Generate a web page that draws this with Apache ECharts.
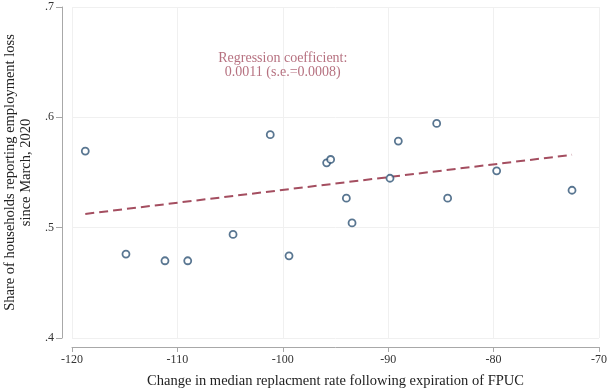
<!DOCTYPE html>
<html><head><meta charset="utf-8">
<script src="https://cdn.jsdelivr.net/npm/echarts@6/dist/echarts.min.js"></script>
<style>html,body{margin:0;padding:0;background:#fff}#c{width:610px;height:390px}</style>
</head><body><div id="c"></div>
<script>
var xValues = [-118.74, -114.88, -111.18, -109.02, -104.72, -101.19, -99.41, -95.84, -95.46, -93.97, -93.43, -89.83, -89.04, -85.40, -84.36, -79.71, -72.56];
var yValues = [0.5694, 0.4761, 0.4700, 0.4700, 0.4939, 0.5843, 0.4745, 0.5588, 0.5618, 0.5267, 0.5043, 0.5448, 0.5785, 0.5945, 0.5267, 0.5515, 0.5339];
var fitCoef = [0.6502, 0.00116]; // intercept, slope
var xTicks = [-120, -110, -100, -90, -80, -70];
var yTickLabels = ['.4', '.5', '.6', '.7'];
var annotationText = 'Regression coefficient:\n0.0011 (s.e.=0.0008)';
var annotationPos = [-100, 0.6473];

var pts = xValues.map(function(x, i){ return [x, yValues[i]]; });
var xmin = Math.min.apply(null, xValues), xmax = Math.max.apply(null, xValues);
var fit = [[xmin, fitCoef[0] + fitCoef[1]*xmin], [xmax, fitCoef[0] + fitCoef[1]*xmax]];

var serif = '"Liberation Serif", "DejaVu Serif", serif';
var axisGray = '#a8a8a8';
var chart = echarts.init(document.getElementById('c'), null, {renderer: 'canvas'});
chart.setOption({
  animation: false,
  grid: {left: 72, top: 7, width: 527, height: 331, containLabel: false, outerBoundsMode: 'none'},
  xAxis: {
    type: 'value', min: xTicks[0], max: xTicks[xTicks.length-1], interval: 10,
    offset: 9,
    name: 'Change in median replacment rate following expiration of FPUC',
    nameLocation: 'middle', nameGap: 27,
    nameTextStyle: {fontFamily: serif, fontSize: 14.5, color: '#222'},
    axisLine: {show: true, onZero: false, lineStyle: {color: axisGray, width: 1}},
    axisTick: {show: true, length: 5, lineStyle: {color: axisGray}},
    axisLabel: {fontFamily: serif, fontSize: 12, color: '#333', margin: 7},
    splitLine: {show: true, lineStyle: {color: '#f0f0f0', width: 1}}
  },
  yAxis: {
    type: 'value', min: 0.4, max: 0.7, interval: 0.1,
    offset: 10,
    name: 'Share of households reporting employment loss\nsince March, 2020',
    nameLocation: 'middle', nameGap: 28,
    nameTextStyle: {fontFamily: serif, fontSize: 14.5, color: '#222', lineHeight: 16},
    axisLine: {show: true, lineStyle: {color: axisGray, width: 1}},
    axisTick: {show: true, length: 6, lineStyle: {color: axisGray}},
    axisLabel: {fontFamily: serif, fontSize: 12, color: '#333', margin: 8,
      formatter: function(v){ return yTickLabels[Math.round((v-0.4)*10)]; }},
    splitLine: {show: true, lineStyle: {color: '#f0f0f0', width: 1}}
  },
  series: [
    {
      type: 'line', data: fit, symbol: 'none', z: 2,
      lineStyle: {color: '#a44e60', width: 2, type: [9, 5]}
    },
    {
      type: 'scatter', data: pts, symbol: 'circle', symbolSize: 7, z: 3,
      itemStyle: {color: '#fff', borderColor: '#2f5475', borderWidth: 1.8}
    },
    {
      type: 'scatter', data: [annotationPos], symbolSize: 0, silent: true,
      label: {show: true, position: 'inside', formatter: annotationText,
        fontFamily: serif, fontSize: 14, color: '#a44e60', lineHeight: 14, align: 'center', verticalAlign: 'middle'}
    }
  ]
});
</script></body></html>
